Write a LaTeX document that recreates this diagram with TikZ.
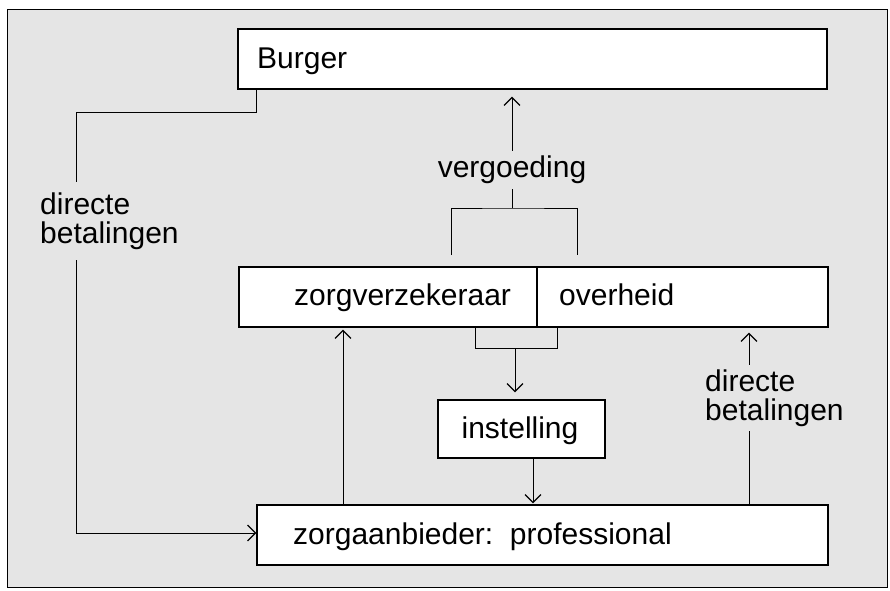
\documentclass[tikz,border=0pt]{standalone}
\usepackage{fontspec}
\setmainfont{Liberation Sans}
\usetikzlibrary{arrows.meta}
\definecolor{bgc}{gray}{0.9}
\tikzset{
  box/.style={draw=black, line width=1.2pt, fill=white, inner sep=0pt, rectangle},
  txt/.style={inner sep=0pt, font=\fontsize{30}{28.5}\selectfont},
  lbl/.style={fill=bgc, inner xsep=2pt, align=left, font=\fontsize{30}{28.5}\selectfont},
  conn/.style={draw=black, line width=0.9pt},
  arr/.style={conn, -{Straight Barb[length=8pt,width=16pt,line width=1.2pt]}},
}
\begin{document}
\begin{tikzpicture}[x=1pt,y=-1pt]
\useasboundingbox (0,0) rectangle (890,590);
\fill[white] (0,0) rectangle (890,590);
\draw[fill=bgc, line width=1pt] (7,9) rectangle (887,587);

% boxes
\node[box, minimum width=589pt, minimum height=60pt] (burger) at (532.5,59) {};
\node[txt, anchor=base west] (tburger) at (257,68) {Burger};

\node[box, minimum width=298pt, minimum height=60pt] (zv) at (388,297) {};
\node[box, minimum width=291pt, minimum height=60pt] (ov) at (682.5,297) {};
\node[txt, anchor=base west] (tzv) at (294,305) {zorgverzekeraar};
\node[txt, anchor=base west] (tov) at (559,305) {overheid};

\node[box, minimum width=167pt, minimum height=58pt] (inst) at (521.5,429) {};
\node[txt, anchor=base] (tinst) at (520,438) {instelling};

\node[box, minimum width=571pt, minimum height=60pt] (za) at (542.5,535) {};
\node[txt, anchor=base west] (tza) at (293,544) {zorgaanbieder:\ \ professional};

% upper bracket and vergoeding
\coordinate (b1) at (451,255);
\coordinate (b2) at (577,255);
\coordinate (btop) at (512,208);
\draw[conn] (b1) |- (btop) -| (b2);
\draw[arr, shorten >=7pt] (btop) -- (btop |- burger.south)
  node[lbl, pos=0.32, inner ysep=5pt] (lverg) {vergoeding};

% lower bracket and arrow to instelling
\coordinate (l1) at (475,327);
\coordinate (l2) at (557,327);
\coordinate (lbot) at (515,348);
\draw[conn] (l1) |- (lbot) -| (l2);
\draw[arr, shorten >=7pt] (lbot) -- (lbot |- inst.north);

% instelling -> zorgaanbieder
\draw[arr, shorten >=1pt] (inst.south -| 533,0) -- (533,0 |- za.north);

% zorgaanbieder -> zorgverzekeraar
\draw[arr, shorten >=2pt] (343,0 |- za.north) -- (343,0 |- zv.south);

% zorgaanbieder -> overheid (directe betalingen)
\draw[arr, shorten >=5pt] (749,0 |- za.north) -- (749,0 |- ov.south);
\node[lbl, anchor=base west, inner ysep=5pt, inner xsep=0pt] (lright) at (705,420) {directe\\betalingen};

% Burger -> zorgaanbieder (directe betalingen)
\coordinate (p1) at (256,112);
\coordinate (p2) at (76,112);
\coordinate (p3) at (76,533);
\draw[arr] (256,0 |- burger.south) -- (p1) -- (p2) -- (p3) -- (za.west |- p3);
\node[lbl, anchor=base west, inner ysep=11pt, inner xsep=0pt] (lleft) at (40,243) {directe\\betalingen};
\end{tikzpicture}
\end{document}
